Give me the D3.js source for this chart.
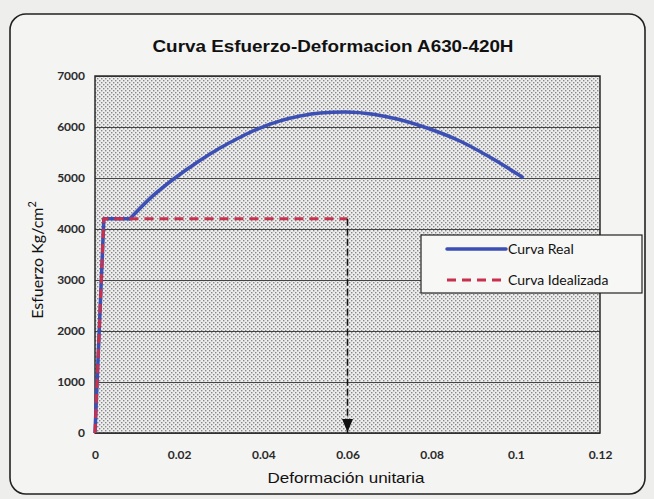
<!DOCTYPE html>
<html>
<head>
<meta charset="utf-8">
<script src="https://cdn.jsdelivr.net/npm/d3@7"></script>
<style>
  body { margin: 0; background: #eeeeec; }
  #chart { width: 654px; height: 499px; }
</style>
</head>
<body>
<div id="chart"></div>
<script>
// curva real
var realStrain = [0, 0.0021, 0.0083, 0.0136, 0.019, 0.0243, 0.0297, 0.0345, 0.0392, 0.044, 0.0487, 0.0535, 0.0594, 0.0665, 0.0718, 0.0789, 0.0867, 0.0938, 0.1015];
var realStress = [0, 4200, 4200, 4640, 5000, 5310, 5590, 5800, 5980, 6120, 6215, 6275, 6294, 6245, 6157, 5980, 5725, 5410, 5020];
// curva idealizada
var idealStrain = [0, 0.0021, 0.06];
var idealStress = [0, 4200, 4200];
// flecha de deformacion
var arrowStrain = [0.06, 0.06];
var arrowStress = [4200, 0];

var xTicks = [0, 0.02, 0.04, 0.06, 0.08, 0.1, 0.12];
var yTicks = [0, 1000, 2000, 3000, 4000, 5000, 6000, 7000];
var seriesNames = ["Curva Real", "Curva Idealizada"];

var arial = "'Liberation Sans', Arial, sans-serif";
var calib = "Lato, 'Open Sans', sans-serif";

var svg = d3.select("#chart").append("svg")
  .attr("width", 654)
  .attr("height", 499);

var defs = svg.append("defs");
var pat = defs.append("pattern")
  .attr("id", "dots")
  .attr("patternUnits", "userSpaceOnUse")
  .attr("width", 4)
  .attr("height", 4);
pat.append("rect").attr("width", 4).attr("height", 4).attr("fill", "#ededed");
pat.append("rect").attr("x", 0).attr("y", 0).attr("width", 1.4).attr("height", 1.4).attr("fill", "#888");
pat.append("rect").attr("x", 2).attr("y", 2).attr("width", 1.4).attr("height", 1.4).attr("fill", "#888");

// borde del grafico
svg.append("rect")
  .attr("x", 10).attr("y", 14)
  .attr("width", 635).attr("height", 480)
  .attr("rx", 16).attr("ry", 16)
  .attr("fill", "#f4f4f2")
  .attr("stroke", "#222")
  .attr("stroke-width", 1.6);

var margin = {top: 76, right: 54, bottom: 66, left: 95},
  width = 654 - margin.left - margin.right,
  height = 499 - margin.top - margin.bottom;

var g = svg.append("g")
  .attr("transform", "translate(" + margin.left + "," + margin.top + ")");

var x = d3.scaleLinear().domain([0, 0.12]).range([0, width]);
var y = d3.scaleLinear().domain([0, 7000]).range([height, 0]);

g.append("rect")
  .attr("width", width)
  .attr("height", height)
  .attr("fill", "url(#dots)");

// lineas de grilla
g.append("g")
  .call(d3.axisLeft(y).tickValues(yTicks).tickSize(-width).tickFormat(""))
  .call(function(s) { s.select(".domain").remove(); })
  .selectAll("line")
  .attr("stroke", "#444")
  .attr("stroke-width", 1);

g.append("rect")
  .attr("width", width)
  .attr("height", height)
  .attr("fill", "none")
  .attr("stroke", "#2a2a2a")
  .attr("stroke-width", 1.5);

var yAxis = g.append("g")
  .call(d3.axisLeft(y).tickValues(yTicks).tickSize(0).tickPadding(10).tickFormat(d3.format("d")));
yAxis.select(".domain").remove();
yAxis.selectAll("text")
  .attr("font-family", calib)
  .attr("font-size", 12)
  .attr("font-weight", "bold")
  .attr("fill", "#2a2a2a");

var xAxis = g.append("g")
  .attr("transform", "translate(0," + height + ")")
  .call(d3.axisBottom(x).tickValues(xTicks).tickSize(0).tickPadding(17).tickFormat(function(d) { return d === 0 ? "0" : String(+d.toFixed(2)); }));
xAxis.select(".domain").remove();
xAxis.selectAll("text")
  .attr("font-family", calib)
  .attr("font-size", 12)
  .attr("font-weight", "bold")
  .attr("fill", "#2a2a2a");

var real = realStrain.map(function(d, i) { return {x: d, y: realStress[i]}; });
var ideal = idealStrain.map(function(d, i) { return {x: d, y: idealStress[i]}; });
var arrow = arrowStrain.map(function(d, i) { return {x: d, y: arrowStress[i]}; });

var line = d3.line()
  .x(function(d) { return x(d.x); })
  .y(function(d) { return y(d.y); });
var smooth = d3.line()
  .x(function(d) { return x(d.x); })
  .y(function(d) { return y(d.y); })
  .curve(d3.curveMonotoneX);

var blue = "#3b4fb4";
var red = "#c8304e";

g.append("path")
  .datum(real.slice(0, 3))
  .attr("fill", "none")
  .attr("stroke", blue)
  .attr("stroke-width", 3.5)
  .attr("stroke-linejoin", "round")
  .attr("d", line);
g.append("path")
  .datum(real.slice(2))
  .attr("fill", "none")
  .attr("stroke", blue)
  .attr("stroke-width", 3.5)
  .attr("stroke-linecap", "round")
  .attr("d", smooth);

g.append("path")
  .datum(ideal)
  .attr("fill", "none")
  .attr("stroke", red)
  .attr("stroke-width", 3)
  .attr("stroke-dasharray", "9,6")
  .attr("d", line);

// flecha
var tip = arrow[1];
g.append("path")
  .datum(arrow)
  .attr("fill", "none")
  .attr("stroke", "#111")
  .attr("stroke-width", 1.6)
  .attr("stroke-dasharray", "7,3")
  .attr("d", line);
g.append("path")
  .attr("d", "M" + (x(tip.x) - 5.5) + "," + (y(tip.y) - 14) + "L" + (x(tip.x) + 5.5) + "," + (y(tip.y) - 14) + "L" + x(tip.x) + "," + (y(tip.y) - 1) + "Z")
  .attr("fill", "#111");

// titulos
svg.append("text")
  .attr("x", 333).attr("y", 52)
  .attr("text-anchor", "middle")
  .attr("font-family", arial)
  .attr("font-weight", "bold")
  .attr("font-size", 17)
  .attr("textLength", 361)
  .attr("lengthAdjust", "spacingAndGlyphs")
  .attr("fill", "#111")
  .text("Curva Esfuerzo-Deformacion A630-420H");

svg.append("text")
  .attr("x", 346).attr("y", 483)
  .attr("text-anchor", "middle")
  .attr("font-family", arial)
  .attr("font-size", 15)
  .attr("textLength", 157)
  .attr("lengthAdjust", "spacingAndGlyphs")
  .attr("fill", "#111")
  .text("Deformación unitaria");

var yLabel = svg.append("text")
  .attr("transform", "translate(43,260) rotate(-90)")
  .attr("text-anchor", "middle")
  .attr("font-family", calib)
  .attr("font-size", 16)
  .attr("fill", "#111");
yLabel.append("tspan").text("Esfuerzo Kg/cm");
yLabel.append("tspan").attr("dy", -7).attr("font-size", 11).text("2");

// leyenda
var leg = svg.append("g").attr("transform", "translate(421,235)");
leg.append("rect")
  .attr("width", 221).attr("height", 58)
  .attr("fill", "#f7f7f5")
  .attr("stroke", "#222")
  .attr("stroke-width", 1.2);
var legStyles = [{c: blue, w: 3.5, dash: null}, {c: red, w: 3, dash: "9,6"}];
seriesNames.forEach(function(name, i) {
  var ly = 14 + i * 31;
  leg.append("line")
    .attr("x1", 26).attr("x2", 85)
    .attr("y1", ly).attr("y2", ly)
    .attr("stroke", legStyles[i].c)
    .attr("stroke-width", legStyles[i].w)
    .attr("stroke-linecap", legStyles[i].dash ? "butt" : "round")
    .attr("stroke-dasharray", legStyles[i].dash);
  leg.append("text")
    .attr("x", 87).attr("y", ly + 5)
    .attr("font-family", calib)
    .attr("font-size", 14)
    .attr("fill", "#111")
    .text(name);
});
</script>
</body>
</html>
